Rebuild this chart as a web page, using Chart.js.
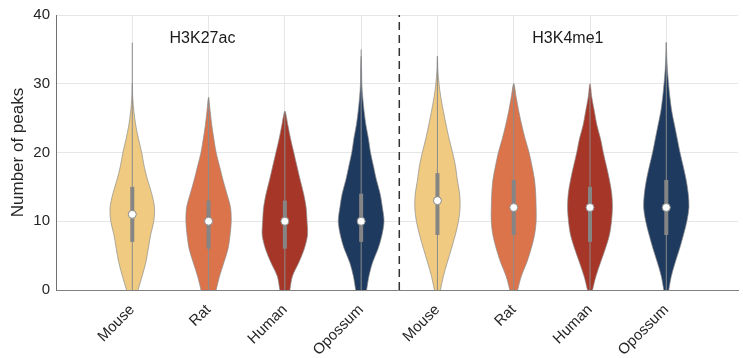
<!DOCTYPE html>
<html>
<head>
<meta charset="utf-8">
<script src="https://cdn.jsdelivr.net/npm/chart.js@4/dist/chart.umd.min.js"></script>
<style>
  html, body { margin: 0; padding: 0; background: #ffffff; }
  #wrap { width: 743px; height: 358px; }
</style>
</head>
<body>
<div id="wrap"><canvas id="c" width="743" height="358"></canvas></div>
<script>
// Species along the x axis, two histone-mark panels of four violins each
const categories = ['Mouse', 'Rat', 'Human', 'Opossum', 'Mouse', 'Rat', 'Human', 'Opossum'];
const panelTitles = ['H3K27ac', 'H3K4me1'];
const yTicks = [0, 10, 20, 30, 40];

// Peak-count levels at which the kernel density is sampled
const densityLevels = [0, 2, 4, 6, 8, 10, 12, 14, 16, 18, 20, 22, 24, 26, 28, 30, 32, 34, 36];

// Relative density (1 = widest) per violin at each level
const mouseK27 = [0.25, 0.43, 0.59, 0.70, 0.80, 0.94, 0.97, 0.85, 0.67, 0.52, 0.41, 0.27, 0.15, 0.07, 0.02, 0];
const ratK27 = [0.33, 0.48, 0.67, 0.85, 0.94, 0.99, 0.96, 0.80, 0.63, 0.48, 0.33, 0.23, 0.14, 0.07, 0];
const humanK27 = [0.22, 0.33, 0.61, 0.85, 0.99, 0.97, 0.93, 0.82, 0.67, 0.53, 0.39, 0.25, 0.13, 0];
const opossumK27 = [0.24, 0.34, 0.50, 0.74, 0.91, 1.00, 0.93, 0.83, 0.67, 0.54, 0.41, 0.32, 0.21, 0.13, 0.07, 0.03, 0.02, 0];
const mouseK4 = [0.13, 0.26, 0.43, 0.61, 0.78, 0.92, 0.99, 0.97, 0.87, 0.79, 0.66, 0.51, 0.38, 0.26, 0.15, 0.07, 0.02, 0];
const ratK4 = [0.17, 0.33, 0.57, 0.76, 0.91, 0.98, 0.98, 0.96, 0.91, 0.80, 0.67, 0.50, 0.35, 0.22, 0.11, 0];
const humanK4 = [0.11, 0.26, 0.46, 0.67, 0.85, 0.94, 0.98, 0.95, 0.85, 0.72, 0.58, 0.46, 0.30, 0.19, 0.08, 0];
const opossumK4 = [0.11, 0.22, 0.39, 0.58, 0.75, 0.90, 0.99, 0.96, 0.87, 0.74, 0.60, 0.48, 0.36, 0.24, 0.16, 0.10, 0.05, 0.02, 0];
const densities = [mouseK27, ratK27, humanK27, opossumK27, mouseK4, ratK4, humanK4, opossumK4];

// Summary statistics per violin
const minPeaks = [0, 0, 0, 0, 0, 0, 0, 0];
const maxPeaks = [36, 28, 26, 35, 34, 30, 29, 36];
const q1Peaks = [7, 6, 6, 7, 8, 8, 7, 8];
const q3Peaks = [15, 13, 13, 14, 17, 16, 15, 16];
const medianPeaks = [11, 10, 10, 10, 13, 12, 12, 12];

const speciesColors = {
  Mouse: '#efca80',
  Rat: '#db734b',
  Human: '#a63627',
  Opossum: '#1f3a5f'
};

const HALF_WIDTH = 0.3;   // widest half-violin, in x units
const FONT = '"Liberation Sans", Arial, Helvetica, sans-serif';

const datasets = [];

// medians: white dots on top
datasets.push({
  type: 'scatter',
  order: 0,
  data: medianPeaks.map((m, i) => ({ x: i + 1, y: m })),
  pointRadius: 4,
  pointBackgroundColor: '#ffffff',
  pointBorderColor: '#8a8a8a',
  pointBorderWidth: 1,
  showLine: false
});

// interquartile bars
q1Peaks.forEach((q, i) => {
  datasets.push({
    type: 'scatter', order: 1, showLine: true,
    data: [{ x: i + 1, y: q }, { x: i + 1, y: q3Peaks[i] }],
    borderColor: '#858585', borderWidth: 4, borderCapStyle: 'butt',
    pointRadius: 0
  });
});

// full-range whiskers
minPeaks.forEach((m, i) => {
  datasets.push({
    type: 'scatter', order: 2, showLine: true,
    data: [{ x: i + 1, y: m }, { x: i + 1, y: maxPeaks[i] }],
    borderColor: '#8c8c8c', borderWidth: 1,
    pointRadius: 0
  });
});

// violin bodies: right edge upward, left edge back down; the fill closes the base
densities.forEach((dens, i) => {
  const pos = i + 1;
  const pts = [];
  dens.forEach((d, k) => pts.push({ x: pos + d * HALF_WIDTH, y: densityLevels[k] }));
  for (let k = dens.length - 2; k >= 0; k--) pts.push({ x: pos - dens[k] * HALF_WIDTH, y: densityLevels[k] });
  const col = speciesColors[categories[i]];
  datasets.push({
    type: 'scatter', order: 3, showLine: true,
    data: pts,
    borderColor: 'rgba(140,140,140,0.85)', borderWidth: 0.8,
    backgroundColor: col,
    fill: 'shape',
    tension: 0.3,
    pointRadius: 0
  });
});

// divider between the two marks
datasets.push({
  type: 'scatter', order: 4, showLine: true,
  data: [{ x: 4.5, y: 0 }, { x: 4.5, y: 40 }],
  borderColor: '#333333', borderWidth: 1.5, borderDash: [8, 5],
  pointRadius: 0
});

// panel titles placed in data coordinates
const panelTitlePlugin = {
  id: 'panelTitles',
  afterDatasetsDraw(chart) {
    const { ctx, scales } = chart;
    const xs = [1.92, 6.71];
    ctx.save();
    ctx.font = '16px ' + FONT;
    ctx.fillStyle = '#1a1a1a';
    ctx.textAlign = 'center';
    ctx.textBaseline = 'middle';
    panelTitles.forEach((t, i) => {
      ctx.fillText(t, scales.x.getPixelForValue(xs[i]), scales.y.getPixelForValue(36.6));
    });
    ctx.restore();
  }
};

new Chart(document.getElementById('c'), {
  type: 'scatter',
  data: { datasets },
  plugins: [panelTitlePlugin],
  options: {
    responsive: false,
    animation: false,
    events: [],
    layout: { padding: { top: 0, right: 0, bottom: 0, left: 8 } },
    plugins: { legend: { display: false }, tooltip: { enabled: false } },
    scales: {
      x: {
        type: 'linear',
        min: 0,
        max: 8.94,
        afterBuildTicks(axis) { axis.ticks = categories.map((c, i) => ({ value: i + 1 })); },
        afterFit(axis) { axis.height = 68; },
        ticks: {
          autoSkip: false,
          maxRotation: 45,
          minRotation: 45,
          padding: 11,
          color: '#262626',
          font: { family: FONT, size: 15 },
          callback: (v) => categories[Math.round(v) - 1] || ''
        },
        grid: { color: '#e6e6e6', drawTicks: false },
        border: { color: '#808080', width: 1 }
      },
      y: {
        min: 0,
        max: 40,
        afterBuildTicks(axis) { axis.ticks = yTicks.map(v => ({ value: v })); },
        afterFit(axis) { axis.width = 48; },
        ticks: {
          padding: 6,
          color: '#262626',
          font: { family: FONT, size: 15 }
        },
        title: {
          display: true,
          text: 'Number of peaks',
          color: '#262626',
          font: { family: FONT, size: 17 },
          padding: { top: 0, bottom: 0 }
        },
        grid: { color: '#e6e6e6', drawTicks: false },
        border: { color: '#707070', width: 1 }
      }
    }
  }
});
</script>
</body>
</html>
